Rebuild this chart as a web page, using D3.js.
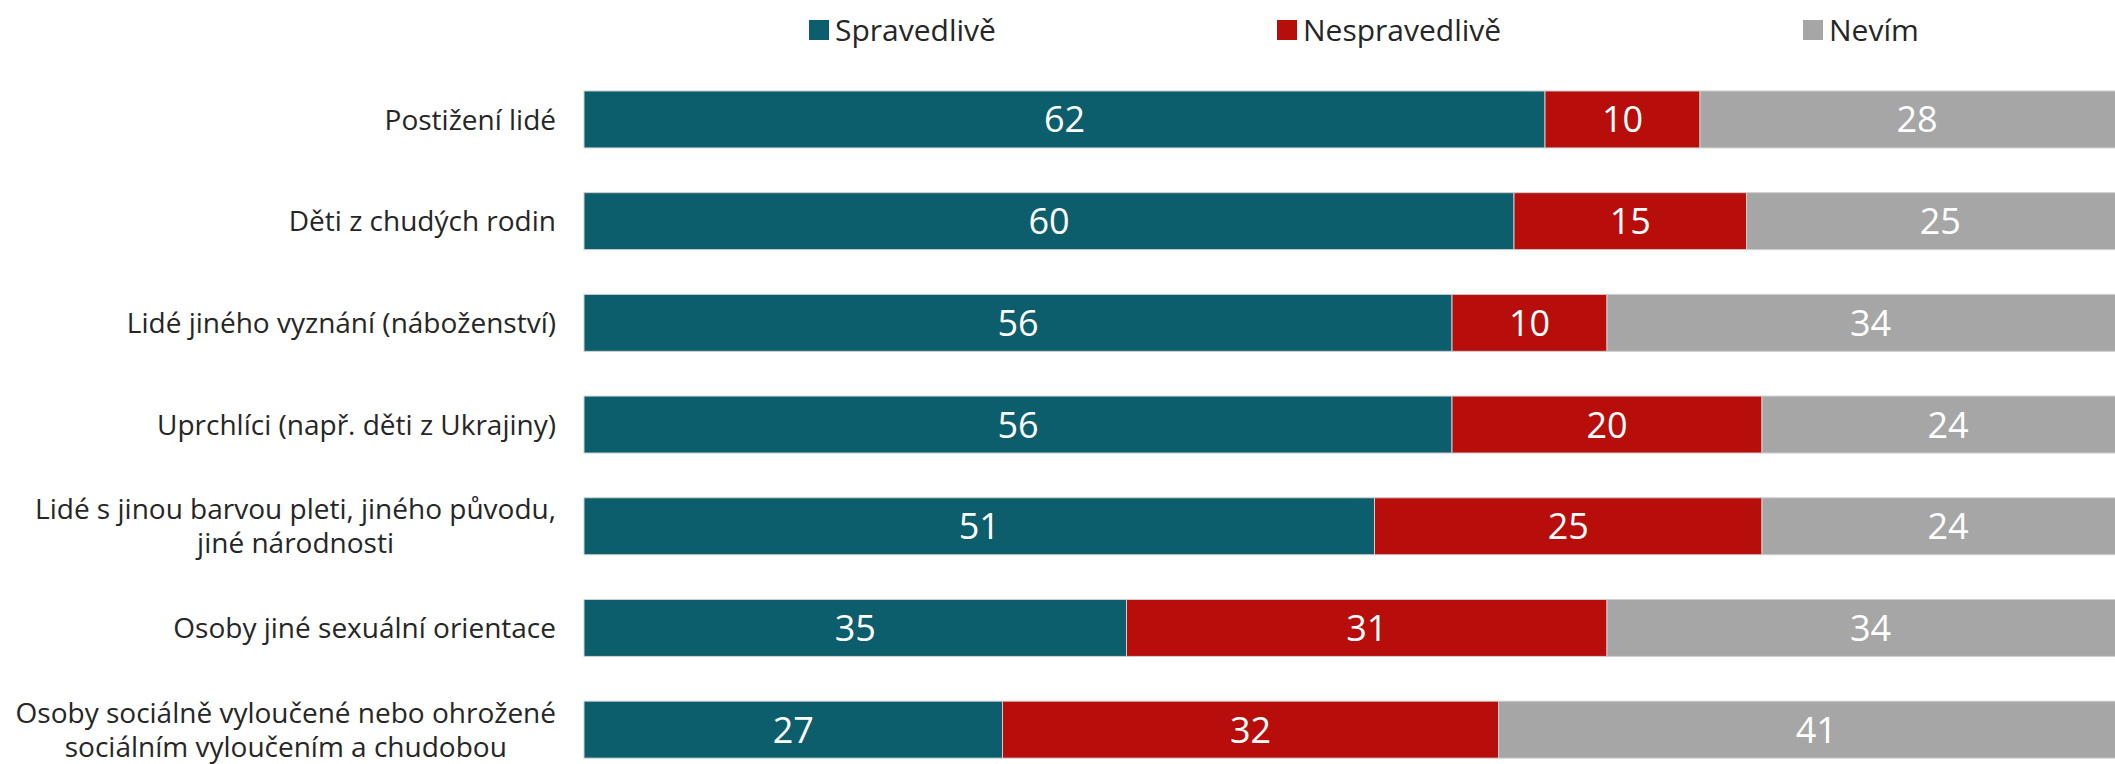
<!DOCTYPE html>
<html>
<head>
<meta charset="utf-8">
<script src="https://cdn.jsdelivr.net/npm/d3@7"></script>
<style>
  html, body { margin: 0; padding: 0; background: #ffffff; overflow: hidden; }
  svg { display: block; }
  text { font-family: "Open Sans", "Noto Sans", sans-serif; }
</style>
</head>
<body>
<svg id="chart" width="2115" height="764"></svg>
<script>
// Categories (top to bottom); each may span several lines
const categories = [
  ["Postižení lidé"],
  ["Děti z chudých rodin"],
  ["Lidé jiného vyznání (náboženství)"],
  ["Uprchlíci (např. děti z Ukrajiny)"],
  ["Lidé s jinou barvou pleti, jiného původu,", "jiné národnosti"],
  ["Osoby jiné sexuální orientace"],
  ["Osoby sociálně vyloučené nebo ohrožené", "sociálním vyloučením a chudobou"]
];

// Series values (%)
const spravedlive   = [62, 60, 56, 56, 51, 35, 27];
const nespravedlive = [10, 15, 10, 20, 25, 31, 32];
const nevim         = [28, 25, 34, 24, 24, 34, 41];

const seriesNames  = ["Spravedlivě", "Nespravedlivě", "Nevím"];
const seriesColors = ["#0D5E6C", "#B70D0B", "#A6A6A6"];

const svg = d3.select("#chart");

const rows = categories.map((c, i) => ({
  key: String(i),
  lines: c,
  values: [spravedlive[i], nespravedlive[i], nevim[i]]
}));

const x = d3.scaleLinear().domain([0, 100]).range([584, 2134]);
const y = d3.scaleBand()
  .domain(rows.map(r => r.key))
  .range([68.6, 780.5])
  .paddingInner(0.44)
  .paddingOuter(0.22);

// Stacked segments
const stacked = d3.stack()
  .keys([0, 1, 2])
  .value((d, k) => d.values[k])(rows);

const layers = svg.append("g").attr("class", "bars")
  .selectAll("g")
  .data(stacked)
  .join("g")
  .attr("fill", (d, i) => seriesColors[i]);

layers.selectAll("rect")
  .data(d => d)
  .join("rect")
  .attr("x", d => x(d[0]))
  .attr("y", d => y(d.data.key))
  .attr("width", d => x(d[1]) - x(d[0]))
  .attr("height", y.bandwidth())
  .attr("stroke", "#cfcfcf")
  .attr("stroke-width", 1);

// Value labels inside the segments
layers.selectAll("text")
  .data(d => d.map(s => Object.assign(s, { v: s[1] - s[0] })))
  .join("text")
  .attr("x", d => x((d[0] + d[1]) / 2))
  .attr("y", d => y(d.data.key) + y.bandwidth() / 2)
  .attr("dy", "0.36em")
  .attr("text-anchor", "middle")
  .attr("fill", "#ffffff")
  .attr("font-size", 36)
  .text(d => d.v);

// Category labels (left axis, no line or ticks)
const lineGap = 34;
const labels = svg.append("g").attr("class", "categories")
  .selectAll("text")
  .data(rows)
  .join("text")
  .attr("text-anchor", "middle")
  .attr("fill", "#262626")
  .attr("font-size", 28)
  .attr("y", d => y(d.key) + y.bandwidth() / 2 - (d.lines.length - 1) * lineGap / 2)
  .attr("dy", "0.36em");

labels.each(function (d) {
  const t = d3.select(this);
  const spans = t.selectAll("tspan")
    .data(d.lines)
    .join("tspan")
    .attr("dy", (l, i) => i === 0 ? null : lineGap)
    .text(l => l);
  // right-align the block, centre each line within it
  let maxW = 0;
  spans.each(function () { maxW = Math.max(maxW, this.getComputedTextLength()); });
  const cx = x(0) - 28 - maxW / 2;
  spans.attr("x", cx);
});

// Legend above the plot: one slot per series
const legendX = d3.scalePoint().domain(seriesNames).range([809, 1803]);
const slotShift = [0, -29, 0];
const legend = svg.append("g").attr("class", "legend");
const items = legend.selectAll("g")
  .data(seriesNames)
  .join("g")
  .attr("transform", (d, i) => `translate(${legendX(d) + slotShift[i]},0)`);
items.append("rect")
  .attr("width", 20).attr("height", 20)
  .attr("y", 20)
  .attr("fill", (d, i) => seriesColors[i]);
items.append("text")
  .attr("x", 26)
  .attr("y", 30)
  .attr("dy", "0.36em")
  .attr("font-size", 30)
  .attr("fill", "#262626")
  .text(d => d);
</script>
</body>
</html>
